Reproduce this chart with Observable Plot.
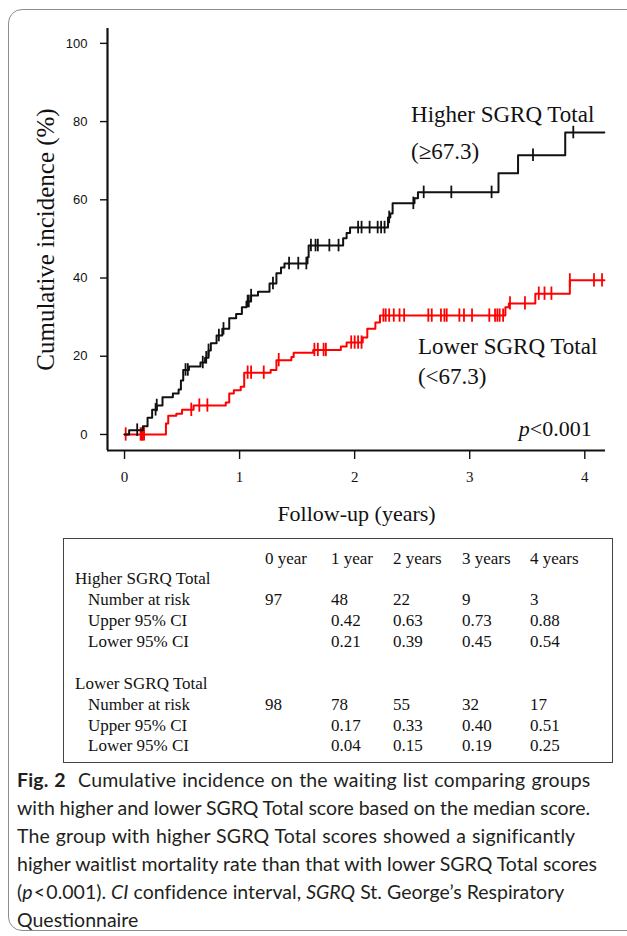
<!DOCTYPE html>
<html><head><meta charset="utf-8">
<script src="https://cdn.jsdelivr.net/npm/d3@7"></script>
<script src="https://cdn.jsdelivr.net/npm/@observablehq/plot@0.6"></script>
<style>
html,body{margin:0;padding:0;background:#fff;width:627px;height:936px;overflow:hidden;position:relative;}
#frame{position:absolute;left:8px;top:9px;width:680px;height:922px;border:1.5px solid #8c8c8c;border-radius:14px;box-sizing:border-box;}
#chart{position:absolute;left:0;top:0;}
#tbox{position:absolute;left:63px;top:538px;width:550px;height:225px;border:1px solid #444;box-sizing:border-box;}
.tc{position:absolute;font-family:"Liberation Serif";font-size:17px;white-space:nowrap;line-height:1;transform:translateY(-50%);color:#111;}
#caption{position:absolute;left:17px;top:766px;font-family:Lato;font-size:19.5px;line-height:28px;color:#231f20;white-space:nowrap;}
#caption div span{display:inline-block;}
#caption b{font-weight:700;}
</style></head>
<body>
<div id="frame"></div>
<div id="chart"></div>
<div id="tbox"></div>
<div id="tcells"></div>
<div id="caption"></div>
<script>
// ---- Kaplan-Meier style step data (time in years, cumulative incidence %) ----
const highT = [0, 0.04, 0.16, 0.20, 0.24, 0.28, 0.33, 0.42, 0.47, 0.49, 0.51, 0.56, 0.66, 0.70, 0.73, 0.75, 0.80, 0.85, 0.91, 0.97, 1.02, 1.06, 1.10, 1.16, 1.26, 1.32, 1.36, 1.39, 1.59, 1.60, 1.90, 1.93, 1.96, 2.29, 2.31, 2.33, 2.52, 2.55, 3.25, 3.42, 3.83, 4.17];
const highV = [0, 1.1, 2.1, 4.3, 6.3, 7.4, 9.5, 10.5, 11.5, 13.8, 16.5, 17.4, 18.4, 19.6, 21.5, 23.3, 25.3, 27.0, 29.7, 30.8, 32.5, 34.0, 35.5, 36.5, 38.6, 41.2, 42.7, 43.7, 45.3, 48.3, 50.2, 51.5, 52.9, 55.5, 56.5, 59.1, 60.4, 61.9, 66.8, 71.4, 77.2, 77.2];
const highCensor = [0.11, 0.27, 0.28, 0.53, 0.55, 0.68, 0.71, 0.73, 0.82, 0.86, 1.07, 1.08, 1.10, 1.29, 1.43, 1.51, 1.58, 1.62, 1.66, 1.68, 1.78, 1.86, 2.03, 2.06, 2.13, 2.20, 2.23, 2.26, 2.30, 2.51, 2.60, 2.84, 3.19, 3.55, 3.90];

const lowT = [0, 0.36, 0.38, 0.45, 0.50, 0.60, 0.88, 0.91, 0.95, 1.01, 1.04, 1.27, 1.32, 1.45, 1.47, 1.64, 1.88, 1.93, 2.07, 2.11, 2.18, 2.22, 3.31, 3.34, 3.57, 3.87, 4.17];
const lowV = [0, 2.8, 4.8, 5.3, 6.3, 7.4, 8.2, 10.5, 11.3, 12.2, 15.8, 16.5, 19.0, 19.8, 20.9, 21.6, 22.5, 23.5, 24.8, 27.0, 28.6, 30.4, 32.5, 33.5, 36.0, 39.4, 39.4];
const lowCensor = [0.01, 0.14, 0.15, 0.16, 0.17, 0.58, 0.65, 0.72, 1.07, 1.10, 1.21, 1.34, 1.65, 1.68, 1.73, 1.75, 1.97, 2.00, 2.03, 2.06, 2.25, 2.27, 2.30, 2.34, 2.39, 2.43, 2.64, 2.67, 2.75, 2.78, 2.80, 2.91, 2.95, 3.02, 3.17, 3.22, 3.24, 3.26, 3.29, 3.35, 3.48, 3.60, 3.65, 3.71, 3.87, 4.08, 4.15];

const xTicks = [0, 1, 2, 3, 4];
const yTicks = [0, 20, 40, 60, 80, 100];
const xDomain = [-0.148, 4.18];
const yDomain = [-4.1, 103.8];

// ---- number-at-risk table ----
const yearHeaders = ["0 year", "1 year", "2 years", "3 years", "4 years"];
const groupNames = ["Higher SGRQ Total", "Lower SGRQ Total"];
const rowNames = ["Number at risk", "Upper 95% CI", "Lower 95% CI"];
const highAtRisk = ["97", "48", "22", "9", "3"];
const highUpper = ["", "0.42", "0.63", "0.73", "0.88"];
const highLower = ["", "0.21", "0.39", "0.45", "0.54"];
const lowAtRisk = ["98", "78", "55", "32", "17"];
const lowUpper = ["", "0.17", "0.33", "0.40", "0.51"];
const lowLower = ["", "0.04", "0.15", "0.19", "0.25"];

const stepAt = (T, V, t) => { let v = V[0]; for (let i = 0; i < T.length; i++) if (T[i] <= t) v = V[i]; return v; };
const high = highT.map((t, i) => ({t, v: highV[i]}));
const low = lowT.map((t, i) => ({t, v: lowV[i]}));
const highC = highCensor.map(t => ({t, v: stepAt(highT, highV, t)}));
const lowC = lowCensor.map(t => ({t, v: stepAt(lowT, lowV, t)}));

const serif = "Liberation Serif";
const RED = "#ff0000";

const chart = Plot.plot({
  width: 627, height: 535,
  marginLeft: 107, marginRight: 22, marginTop: 28, marginBottom: 85,
  x: {domain: xDomain},
  y: {domain: yDomain},
  style: {background: "transparent", color: "#111"},
  marks: [
    Plot.axisY({ticks: yTicks, tickSize: 7, tickPadding: 13, fontSize: 13, fontFamily: "Liberation Sans", label: null, strokeWidth: 1.4}),
    Plot.axisX({ticks: xTicks, tickFormat: d => String(d), tickSize: 9, tickPadding: 12, fontSize: 15, fontFamily: serif, label: null, strokeWidth: 1.4}),
    Plot.ruleX([xDomain[0]], {strokeWidth: 2.2, stroke: "#111"}),
    Plot.ruleY([yDomain[0]], {strokeWidth: 2.2, stroke: "#111"}),
    Plot.line(low, {x: "t", y: "v", curve: "step-after", stroke: RED, strokeWidth: 2}),
    Plot.ruleX(lowC, {x: "t", y1: d => d.v - 1.7, y2: d => d.v + 1.7, stroke: RED, strokeWidth: 1.8}),
    Plot.line(high, {x: "t", y: "v", curve: "step-after", stroke: "#111", strokeWidth: 2}),
    Plot.ruleX(highC, {x: "t", y1: d => d.v - 1.6, y2: d => d.v + 1.6, stroke: "#111", strokeWidth: 1.8}),
    Plot.text(["Cumulative incidence (%)"], {frameAnchor: "left", textAnchor: "middle", rotate: -90, dx: -62, fontSize: 25, fontFamily: serif, fill: "#111"}),
    Plot.text(["Follow-up (years)"], {frameAnchor: "bottom", dy: 70, fontSize: 22, fontFamily: serif, fill: "#111"}),
    Plot.text(["Higher SGRQ Total"], {x: 2.49, y: 81.8, textAnchor: "start", fontSize: 23, fontFamily: serif, fill: "#111"}),
    Plot.text(["(≥67.3)"], {x: 2.49, y: 72.4, textAnchor: "start", fontSize: 23, fontFamily: serif, fill: "#111"}),
    Plot.text(["Lower SGRQ Total"], {x: 2.55, y: 22.5, textAnchor: "start", fontSize: 23, fontFamily: serif, fill: "#111"}),
    Plot.text(["(<67.3)"], {x: 2.55, y: 14.8, textAnchor: "start", fontSize: 23, fontFamily: serif, fill: "#111"}),
    Plot.text(["p<0.001"], {x: 4.06, y: 1.3, textAnchor: "end", fontSize: 22, fontFamily: serif, fill: "#111"})
  ]
});
// italic p in the p-value annotation
d3.select(chart).selectAll("text").each(function() {
  if (this.textContent === "p<0.001") {
    const s = d3.select(this); s.text("");
    s.append("tspan").attr("font-style", "italic").text("p");
    s.append("tspan").text("<0.001");
  }
});
document.getElementById("chart").appendChild(chart);

// ---- table cells ----
const colX = [265, 331, 393, 462, 530];
const cells = [];
yearHeaders.forEach((h, i) => cells.push([h, colX[i], 558]));
const groups = [[highAtRisk, highUpper, highLower], [lowAtRisk, lowUpper, lowLower]];
const groupY = [578, 683];
groups.forEach((rows, g) => {
  cells.push([groupNames[g], 75, groupY[g]]);
  rows.forEach((vals, r) => {
    const y = groupY[g] + 21 * (r + 1) - (r === 2 && g === 1 ? 1 : 0);
    cells.push([rowNames[r], 88, y]);
    vals.forEach((v, c) => { if (v) cells.push([v, colX[c], y]); });
  });
});
const tc = document.getElementById("tcells");
cells.forEach(([t, x, y]) => {
  const s = document.createElement("span");
  s.className = "tc"; s.textContent = t; s.style.left = x + "px"; s.style.top = y + "px";
  tc.appendChild(s);
});

// ---- caption ----
const captionLines = [
  "<b>Fig. 2</b>&nbsp; Cumulative incidence on the waiting list comparing groups",
  "with higher and lower SGRQ Total score based on the median score.",
  "The group with higher SGRQ Total scores showed a significantly",
  "higher waitlist mortality rate than that with lower SGRQ Total scores",
  "(<i>p</i>&#8202;&lt;&#8202;0.001). <i>CI</i> confidence interval, <i>SGRQ</i> St. George’s Respiratory",
  "Questionnaire"
];
const lineWidths = [573, 573, 558, 580, 547, 0];
const cap = document.getElementById("caption");
cap.innerHTML = captionLines.map(l => "<div><span>" + l + "</span></div>").join("");
cap.querySelectorAll("div > span").forEach((s, i) => {
  if (!lineWidths[i]) return;
  const w = s.getBoundingClientRect().width;
  const txt = s.textContent;
  const n = (txt.match(/ /g) || []).length;
  const chars = txt.length;
  const extra = lineWidths[i] - w;
  s.style.letterSpacing = (extra * 0.5 / chars).toFixed(3) + "px";
  if (n) s.style.wordSpacing = (extra * 0.5 / n).toFixed(2) + "px";
});
</script>
</body></html>
